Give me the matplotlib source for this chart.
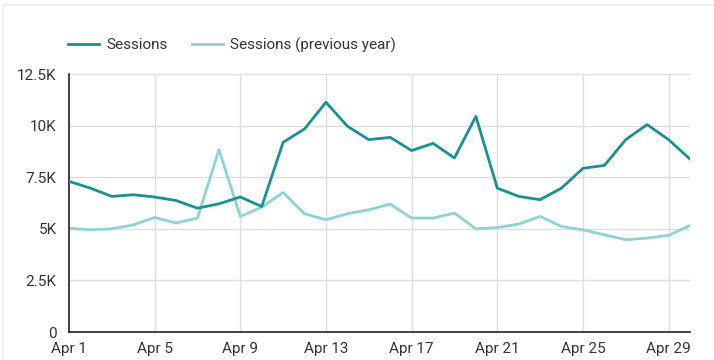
import matplotlib
matplotlib.use("Agg")
import matplotlib.pyplot as plt
from matplotlib.patches import Rectangle

days = list(range(1, 31))
sessions = [7.30, 6.97, 6.57, 6.65, 6.54, 6.37, 6.00, 6.21, 6.54, 6.08,
            9.19, 9.84, 11.13, 9.97, 9.32, 9.43, 8.79, 9.14, 8.43, 10.45,
            6.97, 6.57, 6.41, 6.97, 7.93, 8.07, 9.32, 10.05, 9.32, 8.38]
prev_year = [5.03, 4.95, 5.00, 5.19, 5.55, 5.28, 5.52, 8.83, 5.60, 6.05,
             6.76, 5.73, 5.44, 5.73, 5.92, 6.20, 5.52, 5.52, 5.76, 5.00,
             5.06, 5.23, 5.60, 5.11, 4.95, 4.71, 4.47, 4.55, 4.68, 5.16]
sessions = [v * 1000 for v in sessions]
prev_year = [v * 1000 for v in prev_year]
x_ticks = [1, 5, 9, 13, 17, 21, 25, 29]
x_labels = ["Apr 1", "Apr 5", "Apr 9", "Apr 13", "Apr 17", "Apr 21", "Apr 25", "Apr 29"]
y_ticks = [0, 2500, 5000, 7500, 10000, 12500]
y_labels = ["0", "2.5K", "5K", "7.5K", "10K", "12.5K"]

plt.rcParams['font.family'] = ['Roboto', 'DejaVu Sans']

W, H = 714, 360
fig = plt.figure(figsize=(W / 100, H / 100), dpi=100)
fig.patch.set_facecolor('white')

# card border
fig.add_artist(Rectangle((3 / W, -0.01), 1.2, (H - 5) / H + 0.01, transform=fig.transFigure,
                         fill=False, edgecolor='#ececec', linewidth=1.2))

left, right, top, bottom = 69, 690, 74, 332
ax = fig.add_axes([left / W, 1 - bottom / H, (right - left) / W, (bottom - top) / H])

dark = '#1a8f94'
light = '#8ed2d2'
ax.plot(days, sessions, color=dark, linewidth=2.0, label='Sessions', zorder=3)
ax.plot(days, prev_year, color=light, linewidth=2.0, label='Sessions (previous year)', zorder=2)

ax.set_xlim(1, 30)
ax.set_ylim(0, 12500)
ax.set_xticks(x_ticks)
ax.set_xticklabels(x_labels)
ax.set_yticks(y_ticks)
ax.set_yticklabels(y_labels)
ax.grid(True, color='#dedede', linewidth=1)
ax.set_axisbelow(True)
for s in ['top', 'right']:
    ax.spines[s].set_visible(False)
for s in ['left', 'bottom']:
    ax.spines[s].set_color('#222222')
    ax.spines[s].set_linewidth(1.2)
ax.tick_params(length=0, labelsize=11, colors='#333333')
ax.tick_params(axis='y', pad=9)
ax.tick_params(axis='x', pad=7)

leg = fig.legend(loc='center left', bbox_to_anchor=(62 / W, 1 - 45 / H), ncol=2, frameon=False,
                 fontsize=11, handlelength=2.0, columnspacing=1.6, handletextpad=0.5,
                 labelcolor='#333333', borderaxespad=0)

fig.savefig('out.png', dpi=100, facecolor='white')
